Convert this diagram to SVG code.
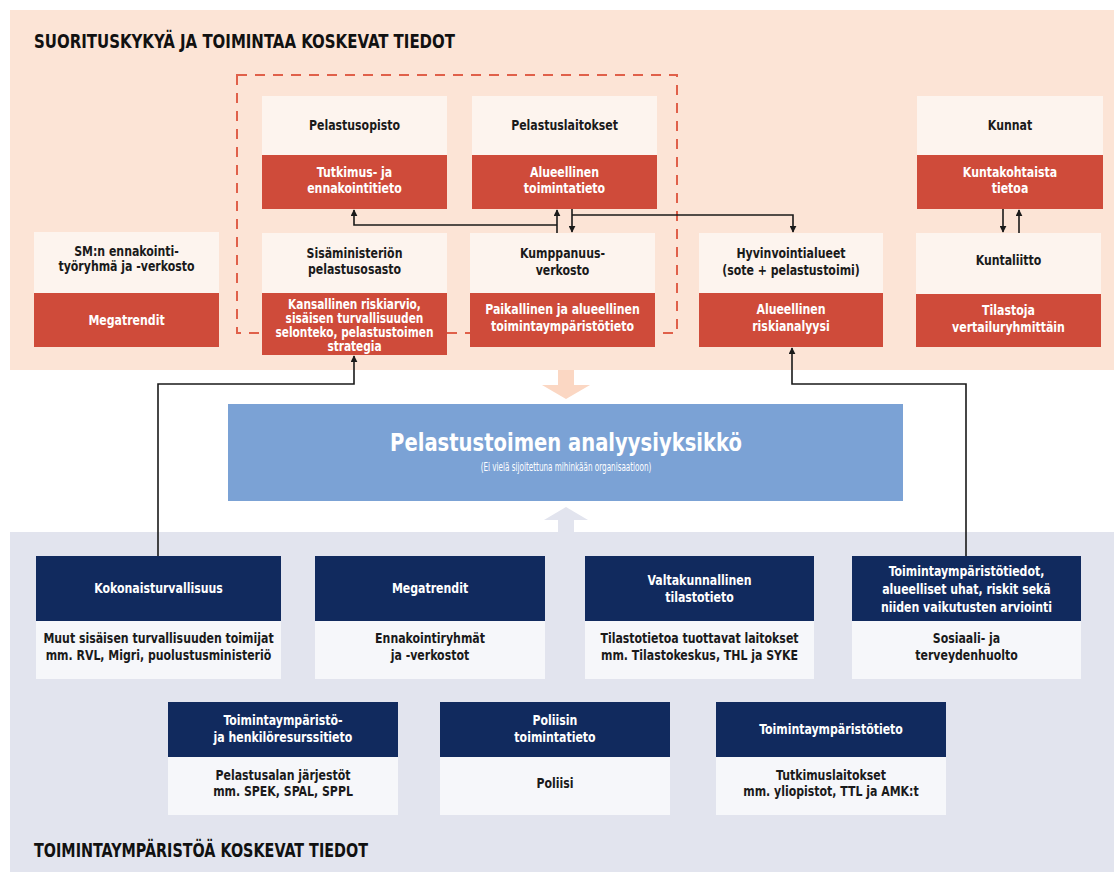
<svg xmlns="http://www.w3.org/2000/svg" width="1114" height="872" viewBox="0 0 1114 872">
<defs>
<style>
text{font-family:"Liberation Sans Narrow","DejaVu Sans Condensed","Liberation Sans",sans-serif;font-weight:bold;text-anchor:middle;transform-box:fill-box;transform-origin:center;transform:scaleX(0.87)}
.title{font-size:20px;fill:#111;text-anchor:start;transform:none}
.wt{fill:#fdf4ee}
.rd{fill:#cf4b3a}
.nv{fill:#112a5e}
.lt{fill:#f6f7fa}
.dk{font-size:14px;fill:#1a1a1a}
.wh{font-size:14px;fill:#fff}
.sm{font-size:13.5px}
.bw{font-size:14px;fill:#fff}
.con{fill:none;stroke:#1a1a1a;stroke-width:1.6}
</style>
<marker id="ah" viewBox="0 0 10 10" refX="9" refY="5" markerWidth="7" markerHeight="7" markerUnits="userSpaceOnUse" orient="auto">
<path d="M0,0 L10,5 L0,10 z" fill="#1a1a1a"/>
</marker>
</defs>
<rect x="0" y="0" width="1114" height="872" fill="#ffffff"/>
<rect x="10" y="10" width="1104" height="360" fill="#fce4d6"/>
<rect x="10" y="532" width="1104" height="340" fill="#e2e4ee"/>
<text class="title" x="34" y="48" textLength="421" lengthAdjust="spacingAndGlyphs">SUORITUSKYKYÄ JA TOIMINTAA KOSKEVAT TIEDOT</text>
<text class="title" x="34" y="857" textLength="334" lengthAdjust="spacingAndGlyphs">TOIMINTAYMPÄRISTÖÄ KOSKEVAT TIEDOT</text>
<rect x="237" y="75" width="440" height="258" fill="none" stroke="#e0604a" stroke-width="2" stroke-dasharray="10,8"/>
<path d="M558,370 v15 h-16 l24,14 l24,-14 h-16 v-15 z" fill="#fbd7c3"/>
<path d="M558,532 v-12 h-14 l22,-13 l22,13 h-14 v12 z" fill="#e2e4ee"/>

<g id="pelastusopisto">
<rect class="wt" x="262" y="96" width="185" height="59"/>
<rect class="rd" x="262" y="155" width="185" height="54"/>
<text class="dk" x="354.5" y="130">Pelastusopisto</text>
<text class="wh" x="354.5" y="177">Tutkimus- ja</text>
<text class="wh" x="354.5" y="193">ennakointitieto</text>
</g>
<g id="pelastuslaitokset">
<rect class="wt" x="472" y="96" width="185" height="59"/>
<rect class="rd" x="472" y="155" width="185" height="54"/>
<text class="dk" x="564.5" y="130">Pelastuslaitokset</text>
<text class="wh" x="564.5" y="177">Alueellinen</text>
<text class="wh" x="564.5" y="193">toimintatieto</text>
</g>
<g id="kunnat">
<rect class="wt" x="917" y="96" width="186" height="59"/>
<rect class="rd" x="917" y="155" width="186" height="54"/>
<text class="dk" x="1010" y="130">Kunnat</text>
<text class="wh" x="1010" y="177">Kuntakohtaista</text>
<text class="wh" x="1010" y="193">tietoa</text>
</g>
<g id="sm-ennakointi">
<rect class="wt" x="34" y="232" width="185" height="61"/>
<rect class="rd" x="34" y="293" width="185" height="54"/>
<text class="dk" x="126.5" y="256">SM:n ennakointi-</text>
<text class="dk" x="126.5" y="271">työryhmä ja -verkosto</text>
<text class="wh" x="126.5" y="325">Megatrendit</text>
</g>
<g id="sisaministerio">
<rect class="wt" x="262" y="233" width="185" height="60"/>
<rect class="rd" x="262" y="293" width="185" height="62"/>
<text class="dk" x="354.5" y="258">Sisäministeriön</text>
<text class="dk" x="354.5" y="274">pelastusosasto</text>
<text class="wh sm" x="354.5" y="309">Kansallinen riskiarvio,</text>
<text class="wh sm" x="354.5" y="323">sisäisen turvallisuuden</text>
<text class="wh sm" x="354.5" y="337">selonteko, pelastustoimen</text>
<text class="wh sm" x="354.5" y="351">strategia</text>
</g>
<g id="kumppanuusverkosto">
<rect class="wt" x="470" y="233" width="185" height="60"/>
<rect class="rd" x="470" y="293" width="185" height="54"/>
<text class="dk" x="562.5" y="258">Kumppanuus-</text>
<text class="dk" x="562.5" y="275">verkosto</text>
<text class="wh" x="562.5" y="314">Paikallinen ja alueellinen</text>
<text class="wh" x="562.5" y="331">toimintaympäristötieto</text>
</g>
<g id="hyvinvointialueet">
<rect class="wt" x="699" y="233" width="184" height="60"/>
<rect class="rd" x="699" y="293" width="184" height="54"/>
<text class="dk" x="791" y="258">Hyvinvointialueet</text>
<text class="dk" x="791" y="275">(sote + pelastustoimi)</text>
<text class="wh" x="791" y="314">Alueellinen</text>
<text class="wh" x="791" y="331">riskianalyysi</text>
</g>
<g id="kuntaliitto">
<rect class="wt" x="916" y="233" width="185" height="61"/>
<rect class="rd" x="916" y="294" width="185" height="53"/>
<text class="dk" x="1008.5" y="265">Kuntaliitto</text>
<text class="wh" x="1008.5" y="315">Tilastoja</text>
<text class="wh" x="1008.5" y="332">vertailuryhmittäin</text>
</g>

<g id="analyysiyksikko">
<rect x="228" y="404" width="675" height="97" fill="#7ba2d5"/>
<text x="566" y="451" style="font-size:25px;fill:#fff">Pelastustoimen analyysiyksikkö</text>
<text x="566" y="471" style="font-size:12px;fill:#fff;font-weight:normal;transform:scaleX(0.67)">(Ei vielä sijoitettuna mihinkään organisaatioon)</text>
</g>

<g id="kokonaisturvallisuus">
<rect class="nv" x="36" y="556" width="245" height="65"/>
<rect class="lt" x="36" y="621" width="245" height="58"/>
<text class="bw" x="158.5" y="593">Kokonaisturvallisuus</text>
<text class="dk" x="158.5" y="643">Muut sisäisen turvallisuuden toimijat</text>
<text class="dk" x="158.5" y="660">mm. RVL, Migri, puolustusministeriö</text>
</g>
<g id="megatrendit">
<rect class="nv" x="315" y="556" width="230" height="65"/>
<rect class="lt" x="315" y="621" width="230" height="58"/>
<text class="bw" x="430" y="593">Megatrendit</text>
<text class="dk" x="430" y="643">Ennakointiryhmät</text>
<text class="dk" x="430" y="660">ja -verkostot</text>
</g>
<g id="valtakunnallinen">
<rect class="nv" x="585" y="556" width="229" height="65"/>
<rect class="lt" x="585" y="621" width="229" height="58"/>
<text class="bw" x="699.5" y="585">Valtakunnallinen</text>
<text class="bw" x="699.5" y="602">tilastotieto</text>
<text class="dk" x="699.5" y="643">Tilastotietoa tuottavat laitokset</text>
<text class="dk" x="699.5" y="660">mm. Tilastokeskus, THL ja SYKE</text>
</g>
<g id="toimintaymparistotiedot">
<rect class="nv" x="852" y="556" width="229" height="65"/>
<rect class="lt" x="852" y="621" width="229" height="58"/>
<text class="bw" x="966.5" y="576">Toimintaympäristötiedot,</text>
<text class="bw" x="966.5" y="594">alueelliset uhat, riskit sekä</text>
<text class="bw" x="966.5" y="612">niiden vaikutusten arviointi</text>
<text class="dk" x="966.5" y="643">Sosiaali- ja</text>
<text class="dk" x="966.5" y="660">terveydenhuolto</text>
</g>
<g id="henkiloresurssit">
<rect class="nv" x="168" y="702" width="230" height="55"/>
<rect class="lt" x="168" y="757" width="230" height="58"/>
<text class="bw" x="283" y="725">Toimintaympäristö-</text>
<text class="bw" x="283" y="742">ja henkilöresurssitieto</text>
<text class="dk" x="283" y="780">Pelastusalan järjestöt</text>
<text class="dk" x="283" y="796">mm. SPEK, SPAL, SPPL</text>
</g>
<g id="poliisi">
<rect class="nv" x="440" y="702" width="230" height="55"/>
<rect class="lt" x="440" y="757" width="230" height="58"/>
<text class="bw" x="555" y="725">Poliisin</text>
<text class="bw" x="555" y="742">toimintatieto</text>
<text class="dk" x="555" y="788">Poliisi</text>
</g>
<g id="tutkimuslaitokset">
<rect class="nv" x="716" y="702" width="230" height="55"/>
<rect class="lt" x="716" y="757" width="230" height="58"/>
<text class="bw" x="831" y="734">Toimintaympäristötieto</text>
<text class="dk" x="831" y="780">Tutkimuslaitokset</text>
<text class="dk" x="831" y="796">mm. yliopistot, TTL ja AMK:t</text>
</g>

<g id="connectors">
<path class="con" d="M557,233 V210" marker-end="url(#ah)"/>
<path class="con" d="M557,225 H354 V210" marker-end="url(#ah)"/>
<path class="con" d="M572,209 V232" marker-end="url(#ah)"/>
<path class="con" d="M572,215 H793 V232" marker-end="url(#ah)"/>
<path class="con" d="M1003,209 V232" marker-end="url(#ah)"/>
<path class="con" d="M1019,233 V210" marker-end="url(#ah)"/>
<path class="con" d="M158,556 V384 H354 V356" marker-end="url(#ah)"/>
<path class="con" d="M966,556 V384 H792 V348" marker-end="url(#ah)"/>
</g>
</svg>
